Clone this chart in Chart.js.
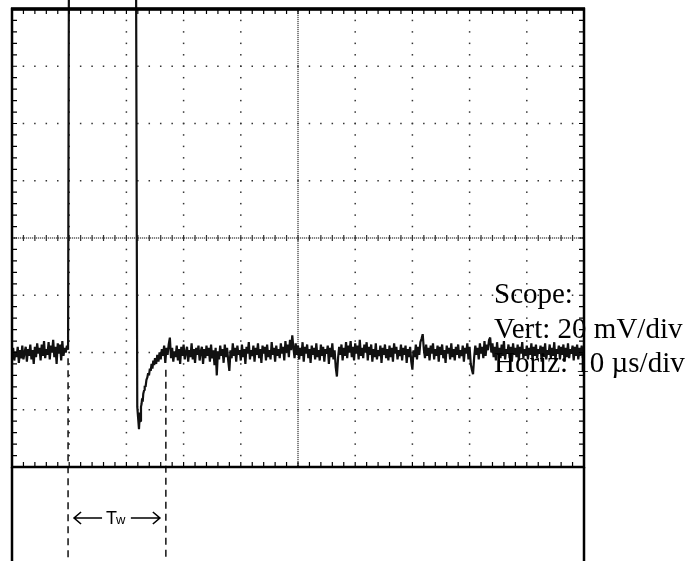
<!DOCTYPE html>
<html>
<head>
<meta charset="utf-8">
<script src="https://cdn.jsdelivr.net/npm/chart.js@4.4.1/dist/chart.umd.min.js"></script>
<style>
  html, body { margin: 0; padding: 0; background: #fff; }
  canvas { display: block; }
</style>
</head>
<body>
<canvas id="scope" width="690" height="561"></canvas>
<script>
// Screen is 10 x 8 divisions, values below are in divisions
const sampleStep = 0.02;

// noise before the trigger edge (starts at 0 div)
const preTriggerY = [
  -2.04, -1.92, -2.14, -1.98, -2.08, -1.90, -2.18, -1.96, -2.10, -1.88,
  -2.12, -2.00, -1.90, -2.16, -1.94, -2.06, -1.86, -2.12, -1.96, -2.20,
  -1.90, -2.08, -1.84, -2.02, -1.92, -2.14, -1.86, -2.06, -1.80, -2.10,
  -1.94, -2.04, -1.82, -2.12, -1.88, -2.00, -1.78, -2.08, -1.90, -2.20,
  -1.84, -2.02, -1.86, -2.14, -1.80, -2.06, -1.92, -2.00, -1.88];

// the pulse itself goes off the top of the screen
const pulseX = [0.98, 0.998, 2.165, 2.19, 2.22];
const pulseY = [-1.95, 6, 6, -2.95, -3.34];

// undershoot recovery
const recoveryX = [2.235, 2.245, 2.255, 2.265, 2.275, 2.285, 2.295, 2.31, 2.32, 2.335, 2.35, 2.365, 2.38,
  2.395, 2.41, 2.425, 2.44, 2.455, 2.47, 2.485, 2.50, 2.52, 2.54, 2.56, 2.58];
const recoveryY = [-3.05, -3.20, -2.95, -2.90, -2.80, -2.86, -2.72, -2.66, -2.58, -2.60, -2.48, -2.44, -2.36,
  -2.40, -2.28, -2.32, -2.20, -2.28, -2.14, -2.22, -2.10, -2.20, -2.04, -2.16, -2.00];

// noisy baseline after the pulse (starts at 2.6 div)
const baselineStart = 2.6;
const baselineY = [
  -2.12, -1.94, -2.06, -1.88, -2.18, -1.92, -2.04, -1.86, -1.74, -2.10,
  -1.92, -2.16, -1.98, -2.08, -1.88, -2.14, -1.94, -2.20, -1.90, -2.06,
  -1.86, -2.12, -2.00, -1.90, -2.16, -1.96, -2.08, -1.84, -2.12, -1.94,
  -2.18, -1.92, -2.04, -1.88, -2.14, -1.98, -1.90, -2.20, -1.94, -2.10,
  -1.88, -2.06, -1.92, -2.16, -1.86, -2.10, -1.96, -2.22, -1.92, -2.40,
  -1.98, -2.12, -1.88, -2.06, -1.94, -2.18, -1.86, -2.08, -1.92, -2.14,
  -2.32, -1.96, -2.10, -1.84, -2.06, -1.92, -2.16, -1.88, -2.04, -1.96,
  -2.14, -1.86, -2.08, -1.94, -2.20, -1.90, -2.02, -1.82, -2.12, -1.96,
  -2.06, -1.88, -2.16, -1.92, -2.04, -1.84, -2.10, -1.94, -2.18, -1.88,
  -2.02, -1.90, -2.14, -1.86, -2.08, -1.96, -2.12, -1.82, -2.04, -1.92,
  -2.16, -1.88, -2.06, -1.94, -2.10, -1.84, -2.02, -1.90, -2.14, -1.80,
  -2.00, -1.86, -2.08, -1.78, -1.96, -1.70, -1.92, -2.10, -1.84, -2.04,
  -1.88, -2.12, -1.92, -2.06, -1.82, -2.16, -1.90, -2.02, -1.86, -2.10,
  -1.94, -2.18, -1.88, -2.04, -1.92, -2.12, -1.84, -2.08, -1.96, -2.14,
  -1.86, -2.06, -1.90, -2.16, -1.94, -2.02, -1.88, -2.20, -1.92, -2.08,
  -1.84, -2.12, -1.96, -2.26, -2.42, -2.10, -1.90, -2.04, -1.86, -2.14,
  -1.92, -2.06, -1.82, -2.10, -1.88, -2.00, -1.80, -2.08, -1.90, -2.14,
  -1.84, -2.02, -1.88, -2.12, -1.78, -2.06, -1.92, -2.10, -1.86, -2.00,
  -1.82, -2.14, -1.90, -2.04, -1.86, -2.16, -1.94, -2.08, -1.84, -2.12,
  -1.96, -2.06, -1.88, -2.18, -1.92, -2.04, -1.86, -2.10, -1.94, -2.14,
  -1.88, -2.08, -1.92, -2.16, -1.84, -2.02, -1.90, -2.12, -1.96, -2.06,
  -1.86, -2.14, -1.92, -2.04, -1.88, -2.18, -1.94, -2.08, -1.90, -2.16,
  -2.30, -1.96, -2.08, -1.86, -2.12, -1.90, -2.04, -1.82, -1.76, -1.68,
  -1.94, -2.10, -1.86, -2.06, -1.92, -2.14, -1.88, -2.02, -1.84, -2.12,
  -1.94, -2.06, -1.88, -2.16, -1.90, -2.04, -1.86, -2.10, -1.96, -2.18,
  -1.88, -2.02, -1.92, -2.12, -1.84, -2.08, -1.94, -2.14, -1.90, -2.04,
  -1.86, -2.10, -1.96, -2.06, -1.88, -2.16, -1.92, -2.02, -1.84, -2.12,
  -1.90, -2.20, -2.30, -2.38, -2.08, -1.88, -2.04, -1.92, -2.12, -1.84,
  -2.02, -1.90, -2.10, -1.80, -2.06, -1.86, -1.96, -1.78, -1.74, -2.00,
  -1.84, -2.08, -1.90, -2.14, -1.82, -2.04, -1.92, -2.10, -1.86, -2.06,
  -1.80, -2.12, -1.94, -2.02, -1.86, -2.10, -1.90, -2.16, -1.84, -2.04,
  -1.92, -2.08, -1.86, -2.14, -1.90, -2.02, -1.82, -2.10, -1.94, -2.06,
  -1.88, -2.12, -1.92, -2.04, -1.84, -2.14, -1.90, -2.06, -1.86, -2.10,
  -1.94, -2.02, -1.88, -2.16, -1.90, -2.08, -1.84, -2.12, -1.96, -2.04,
  -1.86, -2.10, -1.92, -2.06, -1.82, -2.14, -1.94, -2.02, -1.88, -2.12,
  -1.90, -2.04, -1.86, -2.16, -1.92, -2.08, -1.84, -2.10, -1.94, -2.02,
  -1.88, -2.14, -1.90, -2.06, -1.86, -2.12, -1.92, -2.04, -1.88, -2.10,
  -1.96];

// pulse width markers (Tw)
const twStart = 0.98;
const twEnd = 2.69;

const scopeLabels = ['Scope:', 'Vert: 20 mV/div', 'Horiz: 10 µs/div'];

// Build the trace points
const trace = [];
preTriggerY.forEach((v, i) => trace.push({ x: i * sampleStep, y: v }));
pulseX.forEach((v, i) => trace.push({ x: v, y: pulseY[i] }));
recoveryX.forEach((v, i) => trace.push({ x: v, y: recoveryY[i] }));
baselineY.forEach((v, i) => trace.push({ x: baselineStart + i * sampleStep, y: v }));

// Graticule, frame and notes drawn around the trace
const scopeFrame = {
  id: 'scopeFrame',
  beforeDatasetsDraw(chart) {
    const { ctx, chartArea: a, scales: { x, y } } = chart;
    ctx.save();
    ctx.fillStyle = '#333';
    // dotted division lines
    for (let k = 1; k < 10; k++) {
      if (k === 5) continue;
      const px = x.getPixelForValue(k);
      for (let i = 1; i < 40; i++) {
        ctx.fillRect(px - 0.75, y.getPixelForValue(-4 + i / 5) - 0.75, 1.5, 1.5);
      }
    }
    for (let k = -3; k <= 3; k++) {
      if (k === 0) continue;
      const py = y.getPixelForValue(k);
      for (let i = 1; i < 50; i++) {
        ctx.fillRect(x.getPixelForValue(i / 5) - 0.75, py - 0.75, 1.5, 1.5);
      }
    }
    // centre cross, finely dotted
    const cx = x.getPixelForValue(5);
    const cy = y.getPixelForValue(0);
    for (let py = a.top; py < a.bottom; py += 2) ctx.fillRect(cx - 0.6, py, 1.2, 1.2);
    for (let px = a.left; px < a.right; px += 2) ctx.fillRect(px, cy - 0.6, 1.2, 1.2);
    for (let i = 1; i < 50; i++) {
      ctx.fillRect(x.getPixelForValue(i / 5) - 0.6, cy - 3, 1.2, 6);
    }
    ctx.restore();
  },
  afterDatasetsDraw(chart) {
    const { ctx, chartArea: a, scales: { x, y } } = chart;
    const H = chart.height;
    ctx.save();
    ctx.strokeStyle = '#000';
    ctx.fillStyle = '#000';

    // frame
    ctx.lineWidth = 2.5;
    ctx.strokeRect(a.left, a.top, a.width, a.height);
    ctx.lineWidth = 3.5;
    ctx.beginPath();
    ctx.moveTo(a.left - 1, a.top);
    ctx.lineTo(a.right + 1, a.top);
    ctx.stroke();
    ctx.lineWidth = 2.5;
    ctx.beginPath();
    ctx.moveTo(a.left, a.bottom);
    ctx.lineTo(a.left, H);
    ctx.moveTo(a.right, a.bottom);
    ctx.lineTo(a.right, H);
    ctx.stroke();

    // minor ticks, pointing inwards
    ctx.lineWidth = 1.2;
    ctx.beginPath();
    for (let i = 1; i < 50; i++) {
      const px = x.getPixelForValue(i / 5);
      ctx.moveTo(px, a.top);
      ctx.lineTo(px, a.top + 5);
      ctx.moveTo(px, a.bottom);
      ctx.lineTo(px, a.bottom - 5);
    }
    for (let i = 1; i < 40; i++) {
      const py = y.getPixelForValue(-4 + i / 5);
      ctx.moveTo(a.left, py);
      ctx.lineTo(a.left + 5, py);
      ctx.moveTo(a.right, py);
      ctx.lineTo(a.right - 5, py);
    }
    ctx.stroke();

    // Tw markers
    const xs = x.getPixelForValue(twStart);
    const xe = x.getPixelForValue(twEnd);
    ctx.lineWidth = 1.4;
    ctx.setLineDash([7, 5]);
    ctx.beginPath();
    ctx.moveTo(xs, y.getPixelForValue(-2.1));
    ctx.lineTo(xs, H);
    ctx.moveTo(xe, y.getPixelForValue(-2.3));
    ctx.lineTo(xe, H);
    ctx.stroke();
    ctx.setLineDash([]);

    const ay = 518;
    ctx.lineWidth = 1.6;
    ctx.beginPath();
    ctx.moveTo(xs + 6, ay);
    ctx.lineTo(xs + 34, ay);
    ctx.moveTo(xs + 13, ay - 6);
    ctx.lineTo(xs + 6, ay);
    ctx.lineTo(xs + 13, ay + 6);
    ctx.moveTo(xe - 35, ay);
    ctx.lineTo(xe - 6, ay);
    ctx.moveTo(xe - 13, ay - 6);
    ctx.lineTo(xe - 6, ay);
    ctx.lineTo(xe - 13, ay + 6);
    ctx.stroke();
    ctx.textBaseline = 'alphabetic';
    ctx.font = '18px "Liberation Sans", Arial, sans-serif';
    ctx.fillText('T', xs + 38, ay + 6);
    ctx.font = '13px "Liberation Sans", Arial, sans-serif';
    ctx.fillText('w', xs + 48, ay + 6);

    // scope settings
    ctx.font = '29px "Liberation Serif", "Times New Roman", serif';
    scopeLabels.forEach((t, i) => ctx.fillText(t, 494, 303 + i * 34.5));
    ctx.restore();
  }
};

new Chart(document.getElementById('scope'), {
  type: 'line',
  data: {
    datasets: [{
      data: trace,
      borderColor: '#111',
      borderWidth: 2.2,
      borderJoinStyle: 'bevel',
      pointRadius: 0,
      tension: 0,
      clip: false
    }]
  },
  options: {
    responsive: false,
    animation: false,
    events: [],
    layout: { padding: { left: 12, right: 106, top: 9, bottom: 94 } },
    plugins: { legend: { display: false }, tooltip: { enabled: false } },
    scales: {
      x: { type: 'linear', min: 0, max: 10, display: false },
      y: { min: -4, max: 4, display: false }
    }
  },
  plugins: [scopeFrame]
});
</script>
</body>
</html>
